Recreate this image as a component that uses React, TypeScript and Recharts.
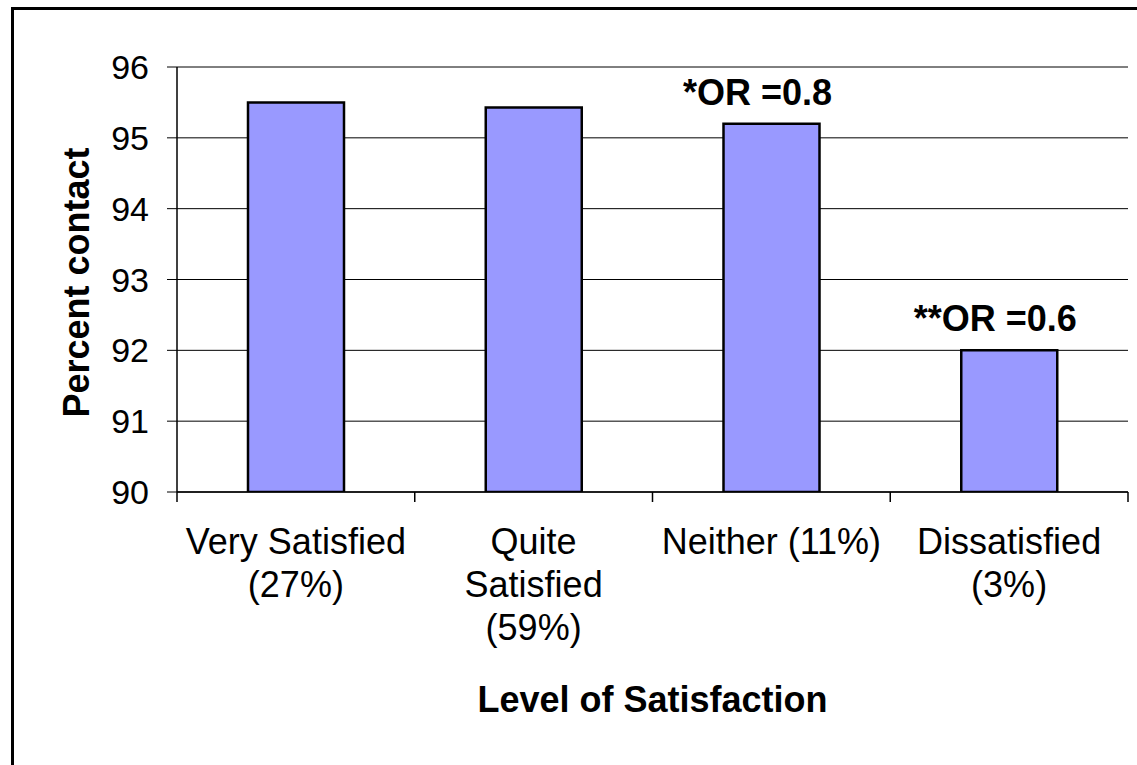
import { BarChart, Bar, XAxis, YAxis, CartesianGrid, LabelList, Label } from 'recharts';

// category labels, split into lines as in the original
const categories = ['Very Satisfied (27%)', 'Quite Satisfied (59%)', 'Neither (11%)', 'Dissatisfied (3%)'];
const categoryLines = [
  ['Very Satisfied', '(27%)'],
  ['Quite', 'Satisfied', '(59%)'],
  ['Neither (11%)'],
  ['Dissatisfied', '(3%)'],
];
const percentContact = [95.5, 95.43, 95.2, 92.0];
const oddsRatios = ['', '', '*OR =0.8', '**OR =0.6'];
const yTicks = [90, 91, 92, 93, 94, 95, 96];

const data = categories.map((name, i) => ({
  name,
  lines: categoryLines[i],
  value: percentContact[i],
  or: oddsRatios[i],
}));

const FONT = '"Liberation Sans", Arial, Helvetica, sans-serif';

function CategoryTick(props: any) {
  const { x, y, payload, index, visibleTicksCount } = props;
  const half = payload?.offset ?? 119;
  const lines: string[] = categoryLines[index] ?? [String(payload.value)];
  const axisY = y - 10;
  return (
    <g>
      <line x1={x - half} x2={x - half} y1={axisY} y2={axisY + 10} stroke="#000" strokeWidth={1.5} />
      {index === (visibleTicksCount ?? 4) - 1 && (
        <line x1={x + half} x2={x + half} y1={axisY} y2={axisY + 10} stroke="#000" strokeWidth={1.5} />
      )}
      <text x={x} y={axisY + 62} textAnchor="middle" fontSize={36} fontFamily={FONT} fill="#000">
        {lines.map((l, i) => (
          <tspan key={i} x={x} dy={i === 0 ? 0 : 43}>
            {l}
          </tspan>
        ))}
      </text>
    </g>
  );
}

function OrLabel(props: any) {
  const { x, y, width, value } = props;
  if (!value) return null;
  return (
    <text x={x + width / 2 - 14} y={y - 19} textAnchor="middle" fontSize={36} fontWeight="bold" fontFamily={FONT} fill="#000">
      {value}
    </text>
  );
}

export default function App() {
  return (
    <div style={{ position: 'absolute', left: 0, top: 0, width: 1137, height: 765, overflow: 'hidden', background: '#fff' }}>
      <div
        style={{
          position: 'absolute',
          left: 11,
          top: 7,
          width: 1200,
          height: 800,
          borderTop: '3px solid #000',
          borderLeft: '3px solid #000',
        }}
      />
      <div style={{ position: 'absolute', left: 0, top: 0 }}>
        <BarChart width={1137} height={765} data={data} margin={{ top: 67, right: 9, left: 0, bottom: 0 }}>
          <CartesianGrid vertical={false} stroke="#000" strokeWidth={1} strokeOpacity={1} />
          <XAxis
            dataKey="name"
            height={273}
            axisLine={{ stroke: '#000', strokeWidth: 1.5 }}
            tickLine={false}
            tickSize={10}
            tickMargin={0}
            interval={0}
            tick={<CategoryTick />}
          >
            <Label
              content={(p: any) => {
                const vb = p.viewBox;
                return (
                  <text x={vb.x + vb.width / 2} y={vb.y + 220} textAnchor="middle" fontSize={36} fontWeight="bold" fontFamily={FONT} fill="#000">
                    Level of Satisfaction
                  </text>
                );
              }}
            />
          </XAxis>
          <XAxis xAxisId="top" dataKey="name" orientation="top" height={0} tick={false} tickLine={false} axisLine={{ stroke: '#888', strokeWidth: 2 }} />
          <YAxis
            domain={[90, 96]}
            ticks={yTicks}
            width={177}
            interval={0}
            allowDataOverflow
            axisLine={{ stroke: '#000', strokeWidth: 1.5 }}
            tickLine={{ stroke: '#000' }}
            tickSize={10}
            tickMargin={18}
            tick={{ fontSize: 34, fill: '#000', fontFamily: FONT }}
          >
            <Label
              content={(p: any) => {
                const vb = p.viewBox;
                const cx = 76;
                const cy = vb.y + vb.height / 2 + 3;
                return (
                  <text
                    x={cx}
                    y={cy}
                    transform={`rotate(-90 ${cx} ${cy})`}
                    textAnchor="middle"
                    dominantBaseline="central"
                    fontSize={36}
                    fontWeight="bold"
                    fontFamily={FONT}
                    fill="#000"
                  >
                    Percent contact
                  </text>
                );
              }}
            />
          </YAxis>
          <YAxis yAxisId="right" orientation="right" domain={[90, 96]} width={0} tick={false} tickLine={false} axisLine={{ stroke: '#888', strokeWidth: 2 }} />
          <Bar dataKey="value" fill="#9999FF" stroke="#000" strokeWidth={2.5} barSize={96} isAnimationActive={false}>
            <LabelList dataKey="or" content={<OrLabel />} />
          </Bar>
        </BarChart>
      </div>
    </div>
  );
}
